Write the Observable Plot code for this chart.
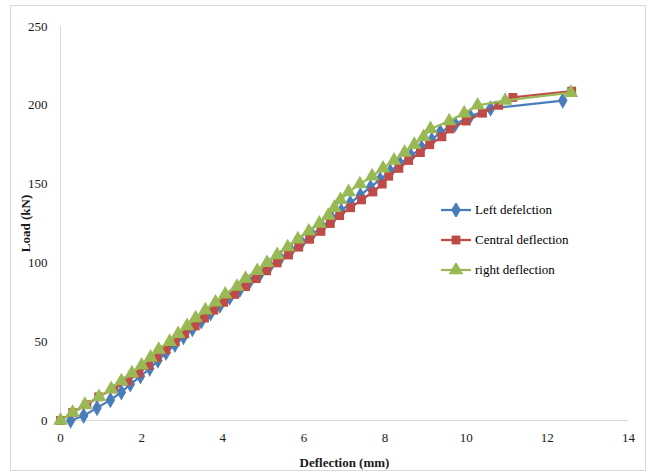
<!DOCTYPE html>
<html><head><meta charset="utf-8">
<script src="https://cdn.jsdelivr.net/npm/d3@7"></script>
<script src="https://cdn.jsdelivr.net/npm/@observablehq/plot@0.6"></script>
<style>
body{margin:0;background:#fff;}
#wrap{position:relative;width:651px;height:475px;font-family:"Liberation Serif","DejaVu Serif",serif;overflow:hidden;}
#frame{position:absolute;left:10px;top:5px;width:634px;height:464px;border:1px solid #d9d9d9;pointer-events:none;}
#chart{position:absolute;left:0;top:0;}
#legend{position:absolute;left:440px;top:195px;font-size:13px;color:#000;}
.item{display:flex;align-items:center;height:30px;}
.item svg{margin-right:3px;}
g[aria-label="y-axis label"] text, g[aria-label="x-axis label"] text{font-weight:bold;}
</style></head>
<body>
<div id="wrap"><div id="frame"></div><div id="chart"></div><div id="legend"></div></div>
<script>
// Series names and colours
const seriesNames = ["Left defelction", "Central deflection", "right deflection"];
const seriesColors = ["#4a7ebb", "#be4b48", "#98b954"];
const seriesSymbols = ["diamond", "square", "triangle"];

// Left deflection (blue)
const leftLoad = [0,3,8,13,18,23,28,33,38,43,48,53,58,63,68,73,78,83,88,93,98,103,108,113,118,123,128,133,138,143,148,153,158,163,168,173,178,183,188,193,198,203];
const leftDefl = [0.25,0.57,0.9,1.23,1.5,1.72,1.97,2.2,2.4,2.6,2.82,3.03,3.25,3.47,3.7,3.93,4.17,4.42,4.66,4.92,5.16,5.42,5.68,5.94,6.2,6.45,6.7,6.92,7.14,7.39,7.64,7.88,8.13,8.37,8.64,8.9,9.15,9.36,9.73,10.1,10.6,12.38];

// Central deflection (red)
const centralLoad = [0,5,10,15,20,25,30,35,40,45,50,55,60,65,70,75,80,85,90,95,100,105,110,115,120,125,130,135,140,145,150,155,160,165,170,175,180,185,190,195,200,205,209];
const centralDefl = [0,0.3,0.65,0.94,1.31,1.65,1.93,2.17,2.38,2.6,2.83,3.06,3.32,3.55,3.78,4.02,4.29,4.56,4.82,5.08,5.34,5.62,5.87,6.14,6.42,6.65,6.88,7.15,7.42,7.7,7.93,8.09,8.34,8.58,8.87,9.1,9.4,9.6,10.0,10.4,10.8,11.15,12.6];

// Right deflection (green)
const rightLoad = [0,5,10,15,20,25,30,35,40,45,50,55,60,65,70,75,80,85,90,95,100,105,110,115,120,125,130,135,140,145,150,155,160,165,170,175,180,185,190,195,200,203,208];
const rightDefl = [0,0.3,0.6,0.95,1.25,1.5,1.76,2.0,2.22,2.42,2.69,2.9,3.12,3.33,3.57,3.82,4.06,4.35,4.56,4.85,5.09,5.34,5.6,5.85,6.12,6.38,6.6,6.75,6.9,7.1,7.38,7.68,7.95,8.22,8.48,8.72,8.95,9.12,9.58,9.95,10.28,10.96,12.58];

const xTicks = [0,2,4,6,8,10,12,14];
const yTicks = [0,50,100,150,200,250];

const loads = [leftLoad, centralLoad, rightLoad];
const defls = [leftDefl, centralDefl, rightDefl];
const series = seriesNames.map((name, i) => loads[i].map((y, j) => ({x: defls[i][j], y, name})));
const radii = [5, 5, 5.4];

const marks = [
  Plot.ruleX([0], {y1: 0, y2: 250, stroke: "#d9d9d9"}),
  Plot.ruleY([0], {x1: 0, x2: 14, stroke: "#d9d9d9"}),
  Plot.axisX({ticks: xTicks, tickSize: 0, tickPadding: 12, label: "Deflection (mm)", labelAnchor: "center", labelOffset: 46, labelArrow: "none"}),
  Plot.axisY({ticks: yTicks, tickSize: 0, tickPadding: 13, label: "Load (kN)", labelAnchor: "center", labelOffset: 40, labelArrow: "none"})
];
series.forEach((data, i) => {
  marks.push(Plot.line(data, {x: "x", y: "y", stroke: seriesColors[i], strokeWidth: 2.25}));
  marks.push(Plot.dot(data, {x: "x", y: "y", symbol: seriesSymbols[i], fill: seriesColors[i], stroke: "none", r: radii[i]}));
});

const chart = Plot.plot({
  width: 651, height: 475,
  marginLeft: 60, marginRight: 23, marginTop: 26, marginBottom: 55,
  x: {domain: [0, 14]},
  y: {domain: [0, 250]},
  style: {fontFamily: "'Liberation Serif', 'DejaVu Serif', serif", fontSize: "13px", color: "#1a1a1a", background: "transparent"},
  marks
});
document.getElementById("chart").appendChild(chart);

// Legend
const legend = document.getElementById("legend");
const d3Symbols = [d3.symbolDiamond, d3.symbolSquare, d3.symbolTriangle];
seriesNames.forEach((name, i) => {
  const item = document.createElement("div");
  item.className = "item";
  const sym = d3.symbol(d3Symbols[i], Math.PI * radii[i] * radii[i])();
  item.innerHTML = `<svg width="32" height="14"><line x1="1" x2="31" y1="7" y2="7" stroke="${seriesColors[i]}" stroke-width="2.25"/><path d="${sym}" transform="translate(16,7)" fill="${seriesColors[i]}"/></svg><span>${name}</span>`;
  legend.appendChild(item);
});
</script>
</body></html>
